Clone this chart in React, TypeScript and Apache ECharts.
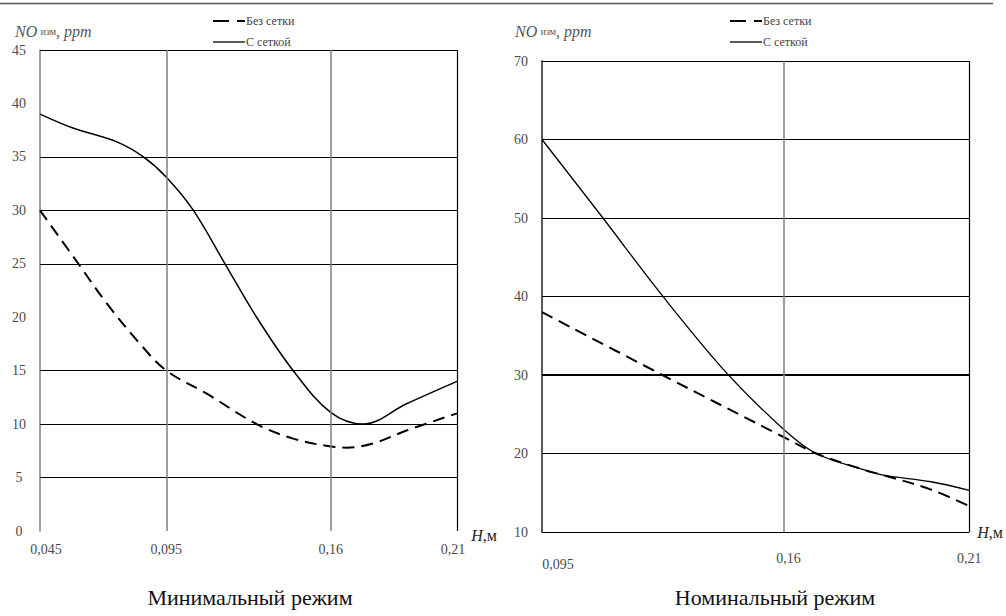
import React, { useEffect, useRef } from 'react';
import * as echarts from 'echarts';

const FONT = "'Liberation Serif', 'Times New Roman', serif";

// ---- Left chart: Минимальный режим ----
const leftWithMesh: [number, number][] = [
  [0.045, 39], [0.058, 37.7], [0.0754, 36.4], [0.0859, 35.0], [0.095, 33.1],
  [0.1057, 30.0], [0.1182, 25.0], [0.1307, 20.0], [0.1452, 15.0], [0.16, 11.1],
  [0.173, 10.0], [0.19, 11.9], [0.21, 14.0],
];
const leftNoMesh: [number, number][] = [
  [0.045, 30], [0.0602, 25], [0.0714, 21.3], [0.0846, 17.5], [0.095, 15],
  [0.111, 12.85], [0.1307, 10.0], [0.1452, 8.64], [0.16, 7.9], [0.1664, 7.8],
  [0.1769, 8.2], [0.19, 9.4], [0.21, 11.0],
];
const leftXTicks = [0.045, 0.095, 0.16, 0.21];
const leftHLines = [5, 10, 15, 25, 30, 35, 45];
const leftVLines = [0.095, 0.16];

// ---- Right chart: Номинальный режим ----
const rightWithMesh: [number, number][] = [
  [0.095, 60], [0.1114, 50], [0.1274, 40.1], [0.1448, 30.2], [0.16, 23.1],
  [0.1688, 20], [0.1818, 17.9], [0.1872, 17.2], [0.1997, 16.4], [0.21, 15.3],
];
const rightNoMesh: [number, number][] = [
  [0.095, 38], [0.1274, 30], [0.16, 22.1], [0.1688, 20],
  [0.1818, 17.9], [0.1872, 17.2], [0.1997, 15.4], [0.21, 13.3],
];
const rightXTicks = [0.095, 0.16, 0.21];
const rightHLines = [10, 20, 40, 50, 60, 70];
const rightVLines = [0.16];

const seriesNames = ['Без сетки', 'С сеткой'];
const titles = ['Минимальный режим', 'Номинальный режим'];

const fmt = (v: number) => String(v).replace('.', ',');

function xLabelFormatter(shifts: Record<string, string>) {
  return (v: number) => {
    const key = shifts[String(v)];
    return key ? `{${key}|${fmt(v)}}` : fmt(v);
  };
}

const labelBase = { fontFamily: FONT, fontSize: 14, color: '#4a4a4a' };

function hLine(v: number, width = 1, color = '#000') {
  return { yAxis: v, lineStyle: { color, width, type: 'solid' } };
}
function vLine(v: number, width = 1.5, color = '#7f7f7f') {
  return { xAxis: v, lineStyle: { color, width, type: 'solid' } };
}

function legendGraphic(x: number) {
  return [
    { type: 'line', shape: { x1: x, y1: 21, x2: x + 16, y2: 21 }, style: { stroke: '#000', lineWidth: 2 } },
    { type: 'line', shape: { x1: x + 24, y1: 21, x2: x + 32, y2: 21 }, style: { stroke: '#000', lineWidth: 2 } },
    { type: 'text', x: x + 33, y: 21, style: { text: seriesNames[0], font: `12px ${FONT}`, fill: '#444', verticalAlign: 'middle' } },
    { type: 'line', shape: { x1: x, y1: 42, x2: x + 32, y2: 42 }, style: { stroke: '#000', lineWidth: 1.3 } },
    { type: 'text', x: x + 33, y: 42, style: { text: seriesNames[1], font: `12px ${FONT}`, fill: '#444', verticalAlign: 'middle' } },
  ];
}

function yName(x: number, y: number) {
  return {
    type: 'text', x, y,
    style: {
      text: '{a|NO} {b|изм}{a|, ppm}',
      verticalAlign: 'middle',
      rich: {
        a: { fontFamily: FONT, fontStyle: 'italic', fontSize: 16, fill: '#555' },
        b: { fontFamily: FONT, fontSize: 10, fill: '#555' },
      },
    },
  };
}

const markLineBase = { silent: true, symbol: ['none', 'none'], label: { show: false }, precision: 6 };

const option: any = {
  animation: false,
  backgroundColor: '#fff',
  textStyle: { fontFamily: FONT },
  grid: [
    { left: 40, top: 50, width: 417, height: 481 },
    { left: 542, top: 61, width: 430, height: 471 },
  ],
  xAxis: [
    {
      gridIndex: 0, type: 'value', min: 0.045, max: 0.21,
      axisLine: { show: false }, axisTick: { show: false }, splitLine: { show: false },
      axisLabel: {
        ...labelBase, margin: 11, customValues: leftXTicks,
        formatter: xLabelFormatter({ '0.045': 's1', '0.21': 's2' }),
        rich: {
          s1: { ...labelBase, padding: [0, 0, 0, 12] },
          s2: { ...labelBase, padding: [0, 8, 0, 0] },
        },
      },
      name: '{i|H},м', nameLocation: 'end', nameGap: 10,
      nameTextStyle: {
        fontFamily: FONT, fontSize: 16, color: '#222', padding: [8, 0, 0, 0],
        rich: { i: { fontFamily: FONT, fontStyle: 'italic', fontSize: 16, color: '#222' } },
      },
    },
    {
      gridIndex: 1, type: 'value', min: 0.095, max: 0.21,
      axisLine: { show: false }, axisTick: { show: false }, splitLine: { show: false },
      axisLabel: {
        ...labelBase, margin: 19, customValues: rightXTicks,
        formatter: xLabelFormatter({ '0.095': 's1', '0.16': 's2' }),
        rich: {
          s1: { ...labelBase, padding: [6, 0, 0, 32] },
          s2: { ...labelBase, padding: [0, 0, 0, 10] },
        },
      },
      name: '{i|H},м', nameLocation: 'end', nameGap: 8,
      nameTextStyle: {
        fontFamily: FONT, fontSize: 16, color: '#222',
        rich: { i: { fontFamily: FONT, fontStyle: 'italic', fontSize: 16, color: '#222' } },
      },
    },
  ],
  yAxis: [
    {
      gridIndex: 0, type: 'value', min: 0, max: 45, interval: 5,
      axisLine: { show: true, lineStyle: { color: '#7f7f7f', width: 1.5 } },
      axisTick: { show: false }, splitLine: { show: false },
      axisLabel: { ...labelBase, align: 'center', margin: 21 },
    },
    {
      gridIndex: 1, type: 'value', min: 10, max: 70, interval: 10,
      axisLine: { show: true, lineStyle: { color: '#5a5a5a', width: 2 } },
      axisTick: { show: false }, splitLine: { show: false },
      axisLabel: { ...labelBase, align: 'center', margin: 21 },
    },
  ],
  series: [
    {
      name: seriesNames[1], type: 'line', xAxisIndex: 0, yAxisIndex: 0,
      data: leftWithMesh, smooth: 0.35, symbol: 'none', clip: false,
      lineStyle: { color: '#000', width: 1.5 },
      markLine: {
        ...markLineBase,
        data: [...leftHLines.map((v) => hLine(v)), ...leftVLines.map((v) => vLine(v)), vLine(0.21, 1.2, '#000')],
      },
      z: 3,
    },
    {
      name: seriesNames[0], type: 'line', xAxisIndex: 0, yAxisIndex: 0,
      data: leftNoMesh, smooth: 0.35, symbol: 'none', clip: false,
      lineStyle: { color: '#000', width: 2, type: [12, 7] },
      z: 3,
    },
    {
      name: seriesNames[1], type: 'line', xAxisIndex: 1, yAxisIndex: 1,
      data: rightWithMesh, smooth: 0.35, symbol: 'none', clip: false,
      lineStyle: { color: '#000', width: 1.3 },
      markLine: {
        ...markLineBase,
        data: [
          ...rightHLines.map((v) => hLine(v)), hLine(30, 2.2),
          ...rightVLines.map((v) => vLine(v)), vLine(0.21, 1.2, '#000'),
        ],
      },
      z: 3,
    },
    {
      name: seriesNames[0], type: 'line', xAxisIndex: 1, yAxisIndex: 1,
      data: rightNoMesh, smooth: 0.35, symbol: 'none', clip: false,
      lineStyle: { color: '#000', width: 2, type: [12, 7] },
      z: 3,
    },
  ],
  graphic: [
    { type: 'line', shape: { x1: 0, y1: 3.5, x2: 993, y2: 3.5 }, style: { stroke: '#555', lineWidth: 1.5 } },
    ...legendGraphic(213),
    ...legendGraphic(730),
    yName(15, 31),
    yName(515, 31),
    { type: 'text', x: 250, y: 597, style: { text: titles[0], font: `22px ${FONT}`, fill: '#111', align: 'center', verticalAlign: 'middle' } },
    { type: 'text', x: 775, y: 597, style: { text: titles[1], font: `22px ${FONT}`, fill: '#111', align: 'center', verticalAlign: 'middle' } },
  ],
};

export default function App() {
  const ref = useRef<HTMLDivElement>(null);
  useEffect(() => {
    const chart = echarts.init(ref.current!, null, { renderer: 'svg' });
    chart.setOption(option);
    return () => chart.dispose();
  }, []);
  return (
    <div
      ref={ref}
      style={{ position: 'fixed', left: 0, top: 0, width: 1006, height: 616, background: '#fff' }}
    />
  );
}
